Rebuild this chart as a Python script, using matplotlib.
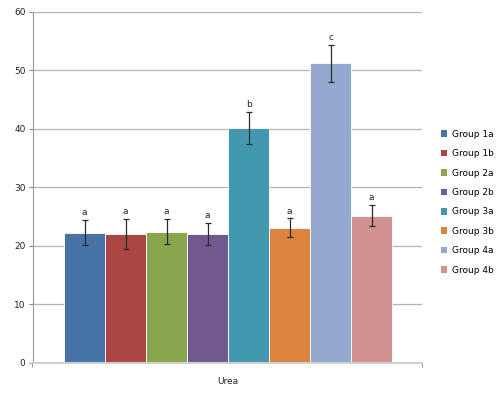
import matplotlib
matplotlib.use('Agg')
import matplotlib.pyplot as plt
import numpy as np

# data (serum urea)
groups = ['Group 1a', 'Group 1b', 'Group 2a', 'Group 2b',
          'Group 3a', 'Group 3b', 'Group 4a', 'Group 4b']
means = [22.3, 22.05, 22.45, 22.1, 40.1, 23.1, 51.2, 25.2]
errors = [2.2, 2.5, 2.1, 1.85, 2.75, 1.6, 3.1, 1.8]
letters = ['a', 'a', 'a', 'a', 'b', 'a', 'c', 'a']
colors = ['#4572A7', '#AA4643', '#89A54E', '#71588F',
          '#4198AF', '#DB843D', '#93A9CF', '#D19392']
category = 'Urea'
yticks = [0, 10, 20, 30, 40, 50, 60]

plt.rcParams['font.family'] = ['DejaVu Sans']
fig = plt.figure(figsize=(5.0, 3.98), dpi=100)
ax = fig.add_axes([0.065, 0.088, 0.7784, 0.882])

x = np.arange(len(groups))
bars = ax.bar(x, means, width=1.0, color=colors, edgecolor='white',
              linewidth=0.6, zorder=2, label=None)
for i in range(len(groups)):
    ax.errorbar(x[i], means[i], yerr=errors[i], fmt='none', ecolor='#2b2b2b',
                elinewidth=0.9, capsize=2.2, capthick=0.9, zorder=3)
    ax.text(x[i], means[i] + errors[i] + 0.5, letters[i], ha='center',
            va='bottom', fontsize=6.5, color='#222222', zorder=4)

ax.set_xlim(-1.27, 8.22)
ax.set_ylim(0, 60)
ax.set_yticks(yticks)
ax.tick_params(axis='y', labelsize=6.5, length=3, width=0.8, color='#888888',
               pad=2, labelcolor='#222222')
ax.yaxis.grid(True, color='#b4b4b4', linewidth=0.9, zorder=0)
ax.set_axisbelow(True)

ax.set_xticks([3.5])
ax.set_xticklabels([category], fontsize=6.5, color='#222222')
ax.tick_params(axis='x', length=0, pad=10)
ax.set_xticks([-1.27, 8.22], minor=True)
ax.tick_params(axis='x', which='minor', length=3, width=0.8, color='#999999')

for side in ['top', 'right']:
    ax.spines[side].set_visible(False)
ax.spines['left'].set_color('#999999')
ax.spines['left'].set_linewidth(0.8)
ax.spines['bottom'].set_color('#d0d0d0')
ax.spines['bottom'].set_linewidth(1.5)

handles = [plt.Rectangle((0, 0), 1, 1, facecolor=c, edgecolor='none') for c in colors]
fig.legend(handles, groups, loc='upper left', bbox_to_anchor=(0.872, 0.685),
           frameon=False, fontsize=6.5, handlelength=0.75, handleheight=0.75,
           handletextpad=0.5, labelspacing=1.15, borderpad=0)

fig.savefig('out.png', dpi=100)
